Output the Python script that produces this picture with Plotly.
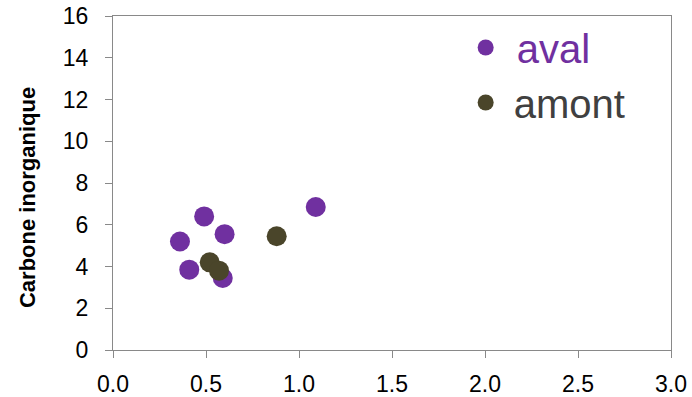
import plotly.graph_objects as go

# Carbone inorganique measurements, downstream (aval) and upstream (amont)
aval_x = [0.49, 0.36, 0.60, 0.41, 0.59, 1.09]
aval_y = [6.4, 5.2, 5.55, 3.85, 3.45, 6.85]
amont_x = [0.88, 0.52, 0.57]
amont_y = [5.45, 4.2, 3.8]

x_ticks = [0.0, 0.5, 1.0, 1.5, 2.0, 2.5, 3.0]
y_ticks = [0, 2, 4, 6, 8, 10, 12, 14, 16]

PURPLE = "#7030A0"
OLIVE = "#4A452A"
AXIS = "#898989"
FONT = "Liberation Sans"

fig = go.Figure()
fig.add_trace(go.Scatter(
    x=aval_x, y=aval_y, mode="markers",
    name=f"<span style='color:{PURPLE}'> aval</span>",
    marker=dict(size=20, color=PURPLE),
))
fig.add_trace(go.Scatter(
    x=amont_x, y=amont_y, mode="markers",
    name="<span style='color:#404040'>\u2009amont</span>",
    marker=dict(size=20, color=OLIVE),
))

axis_common = dict(
    showline=True, linecolor=AXIS, linewidth=1, mirror=True,
    ticks="outside", ticklen=7, tickcolor=AXIS, tickwidth=1,
    showgrid=False, zeroline=False, automargin=False,
    tickfont=dict(family=FONT, size=23, color="#000000"),
)

fig.update_layout(
    width=692, height=397,
    margin=dict(l=113, r=21, t=16, b=47),
    paper_bgcolor="white", plot_bgcolor="white",
    showlegend=True,
    legend=dict(
        x=0.632, y=1.003, xanchor="left", yanchor="top",
        font=dict(family=FONT, size=40),
        bgcolor="rgba(0,0,0,0)", itemsizing="trace",
        tracegroupgap=0,
    ),
    xaxis=dict(range=[0, 3], tickvals=x_ticks,
               ticktext=[f"{v:.1f}" for v in x_ticks],
               ticklabelstandoff=6, **axis_common),
    yaxis=dict(range=[0, 16], tickvals=y_ticks,
               ticklabelstandoff=12, **axis_common),
    annotations=[dict(
        text="<b>Carbone inorganique</b>",
        xref="paper", yref="paper", x=0, y=0.455,
        xanchor="center", yanchor="middle", xshift=-86,
        textangle=-90, showarrow=False,
        font=dict(family=FONT, size=22, color="#000000"),
    )],
)

fig.write_html("out.html")
